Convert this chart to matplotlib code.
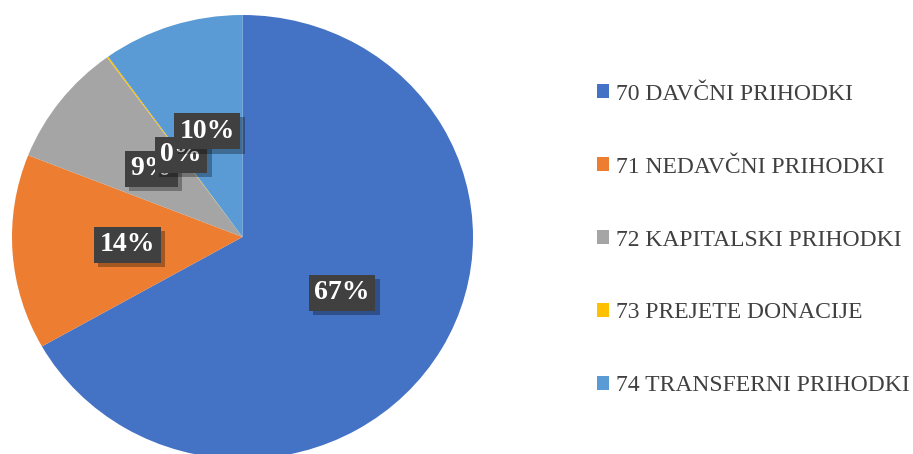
import matplotlib.pyplot as plt
import matplotlib.patheffects as pe
import matplotlib.transforms as mtransforms
from matplotlib.patches import Patch

# Data
categories = ["70 DAVČNI PRIHODKI", "71 NEDAVČNI PRIHODKI",
              "72 KAPITALSKI PRIHODKI", "73 PREJETE DONACIJE",
              "74 TRANSFERNI PRIHODKI"]
shares = [66.8, 14.2, 9.0, 0.1, 9.9]
colors = ["#4472C4", "#ED7D31", "#A5A5A5", "#FFC000", "#5B9BD5"]

plt.rcParams["font.family"] = ["Liberation Serif", "DejaVu Serif"]

fig = plt.figure(figsize=(9.13, 4.54), dpi=100)
# pie is slightly stretched horizontally in the original
ax = fig.add_axes([12 / 913, -5 / 454, 461 / 913, 444 / 454])

wedges, _, pct_texts = ax.pie(shares, colors=colors, startangle=90,
                              counterclock=False, autopct="%.0f%%",
                              pctdistance=0.5, radius=1.0,
                              wedgeprops=dict(linewidth=0))
ax.set_aspect("auto")
ax.set_xlim(-1, 1)
ax.set_ylim(-1, 1)

# Dark label boxes with a soft drop shadow
for t in pct_texts:
    t.set_color("white")
    t.set_fontsize(20)
    t.set_fontweight("bold")
    t.set_bbox(dict(boxstyle="square,pad=0.2", fc="#404040", ec="none"))
    t.get_bbox_patch().set_path_effects(
        [pe.SimplePatchShadow(offset=(3, -3), shadow_rgbFace="black",
                              alpha=0.3), pe.Normal()])

# the tiny slice label is nudged a little, as in the original
pct_texts[3].set_transform(ax.transData + mtransforms.ScaledTranslation(
    0.06, -0.08, fig.dpi_scale_trans))

handles = [Patch(facecolor=c, edgecolor="none") for c in colors]
fig.legend(handles, categories, loc="center left",
           bbox_to_anchor=(597 / 913, 1 - 240 / 454), frameon=False,
           fontsize=17, labelcolor="#404040", handlelength=0.52,
           handleheight=0.52, handletextpad=0.3, labelspacing=2.2,
           borderpad=0, borderaxespad=0)

fig.savefig("out.png", dpi=100)
